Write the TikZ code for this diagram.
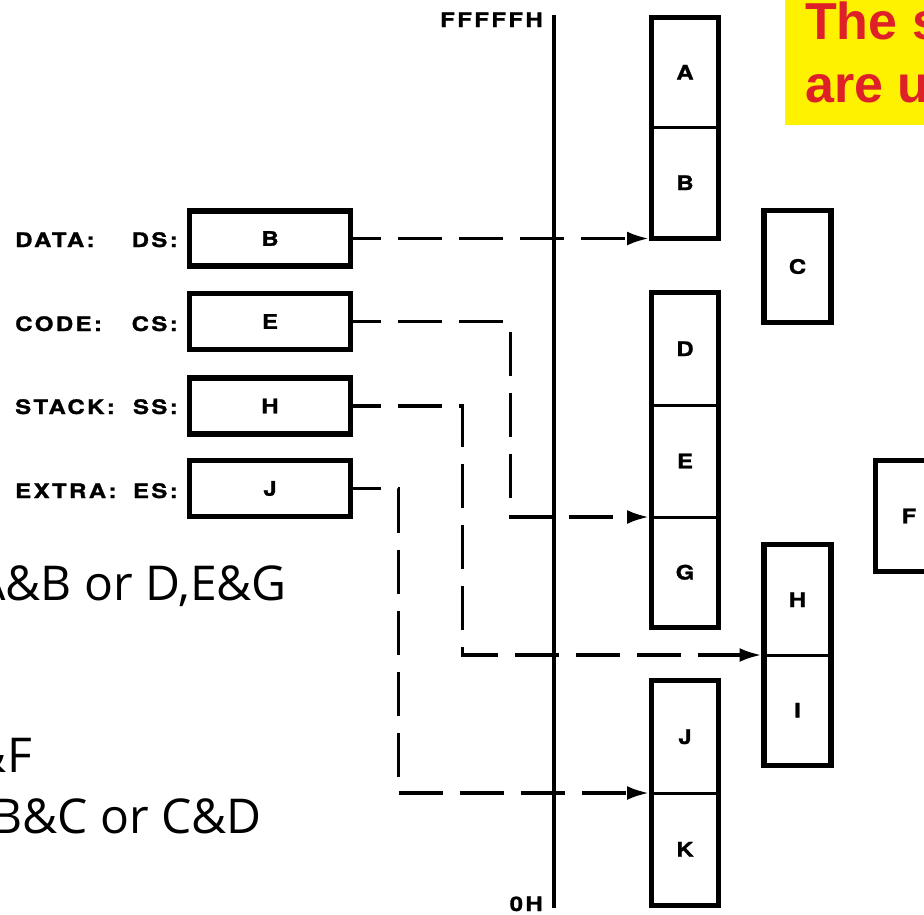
\documentclass[tikz,border=0pt]{standalone}
\usepackage{fontspec}
\setmainfont{Open Sans}
\newfontfamily\lblfont[FakeStretch=1.2,LetterSpace=12,BoldFeatures={FakeBold=1.2}]{TeX Gyre Heros}
\newfontfamily\yfont{Liberation Sans}
\usetikzlibrary{arrows.meta}
\definecolor{myred}{RGB}{222,32,40}
\begin{document}
\begin{tikzpicture}[x=1pt,y=-1pt,
  lbl/.style={font=\lblfont\bfseries\fontsize{20}{20}\selectfont, inner sep=0pt},
  seg/.style={lbl, minimum width=67pt, outer sep=0pt},
  frame/.style={line width=5.5pt},
  divider/.style={line width=3pt},
  reg/.style={lbl, draw, line width=5.5pt, minimum width=161pt},
  conn/.style={line width=3.5pt, dash pattern=on 44pt off 17pt, dash phase=16pt},
  tip/.style={-{Latex[length=22pt,width=14pt]}, shorten >=2.5pt},
  big/.style={font=\fontsize{48}{48}\selectfont, inner sep=0pt},
  ytxt/.style={font=\yfont\bfseries\fontsize{52}{52}\selectfont, text=myred, inner sep=0pt}]
\useasboundingbox (0,0) rectangle (924,914);

% yellow note
\fill[yellow] (785,0) rectangle (940,125);
\node[ytxt, anchor=base west] (y1) at (805,39) {The s};
\node[ytxt, anchor=base west] (y2) at (805,102) {are u};

% axis
\coordinate (axtop) at (554,15);
\coordinate (axbot) at (554,908);
\draw[line width=3.5pt] (axtop) -- (axbot);
\node[lbl, anchor=base east] (fff) at (543,27) {FFFFFH};
\node[lbl, anchor=base east] (zero) at (543,911) {0H};

% memory segments
\node[seg, minimum height=109.5pt] (A) at (685,72.25) {A};
\node[seg, minimum height=111.5pt] (B) at (685,182.75) {B};
\node[seg, minimum height=112pt] (C) at (797.5,266.5) {C};
\node[seg, minimum height=112.5pt] (D) at (685,348.75) {D};
\node[seg, minimum height=112pt] (E) at (685,461) {E};
\node[seg, minimum height=110.5pt] (G) at (685,572.25) {G};
\node[seg, minimum height=111pt] (F) at (909,516) {F};
\node[seg, minimum height=110.5pt] (H) at (797.5,599.75) {H};
\node[seg, minimum height=110.5pt] (I) at (797.5,710.25) {I};
\node[seg, minimum height=112.5pt] (J) at (685,736.75) {J};
\node[seg, minimum height=112.5pt] (K) at (685,849.25) {K};

\draw[frame] (A.north west) rectangle (B.south east);
\draw[divider] (A.south west) -- (A.south east);
\draw[frame] (C.north west) rectangle (C.south east);
\draw[frame] (D.north west) rectangle (G.south east);
\draw[divider] (D.south west) -- (D.south east);
\draw[divider] (E.south west) -- (E.south east);
\draw[frame] (F.north west) rectangle (F.south east);
\draw[frame] (H.north west) rectangle (I.south east);
\draw[divider] (H.south west) -- (H.south east);
\draw[frame] (J.north west) rectangle (K.south east);
\draw[divider] (J.south west) -- (J.south east);

% segment registers
\node[reg, minimum height=55pt] (DS) at (270,238.5) {B};
\node[reg, minimum height=56pt] (CS) at (270,321.5) {E};
\node[reg, minimum height=56pt] (SS) at (270,406) {H};
\node[reg, minimum height=56pt] (ES) at (270,488.5) {J};

\node[lbl, anchor=base west] (ldata) at (15,247) {DATA:};
\node[lbl, anchor=base east] (lds) at (178,247) {DS:};
\node[lbl, anchor=base west] (lcode) at (15,331) {CODE:};
\node[lbl, anchor=base east] (lcs) at (178,331) {CS:};
\node[lbl, anchor=base west] (lstack) at (15,414) {STACK:};
\node[lbl, anchor=base east] (lss) at (178,414) {SS:};
\node[lbl, anchor=base west] (lextra) at (15,498) {EXTRA:};
\node[lbl, anchor=base east] (les) at (178,498) {ES:};

% connectors
\draw[conn, tip] (DS.east) -- (DS.east -| B.south west);
\draw[conn, tip] (CS.east) -- ++(157,0) |- (E.south west);
\draw[conn, tip] (SS.east) -- ++(109,0) |- (H.south west);
\draw[conn, tip] (ES.east) -- ++(45,0) |- (J.south west);

% slide text (clipped at left edge)
\node[big, anchor=base east] (t1) at (287,600) {A\&B or D,E\&G};
\node[big, anchor=base east] (t2) at (32,772) {\&F};
\node[big, anchor=base east] (t3) at (262,833) {B\&C or C\&D};
\end{tikzpicture}
\end{document}
